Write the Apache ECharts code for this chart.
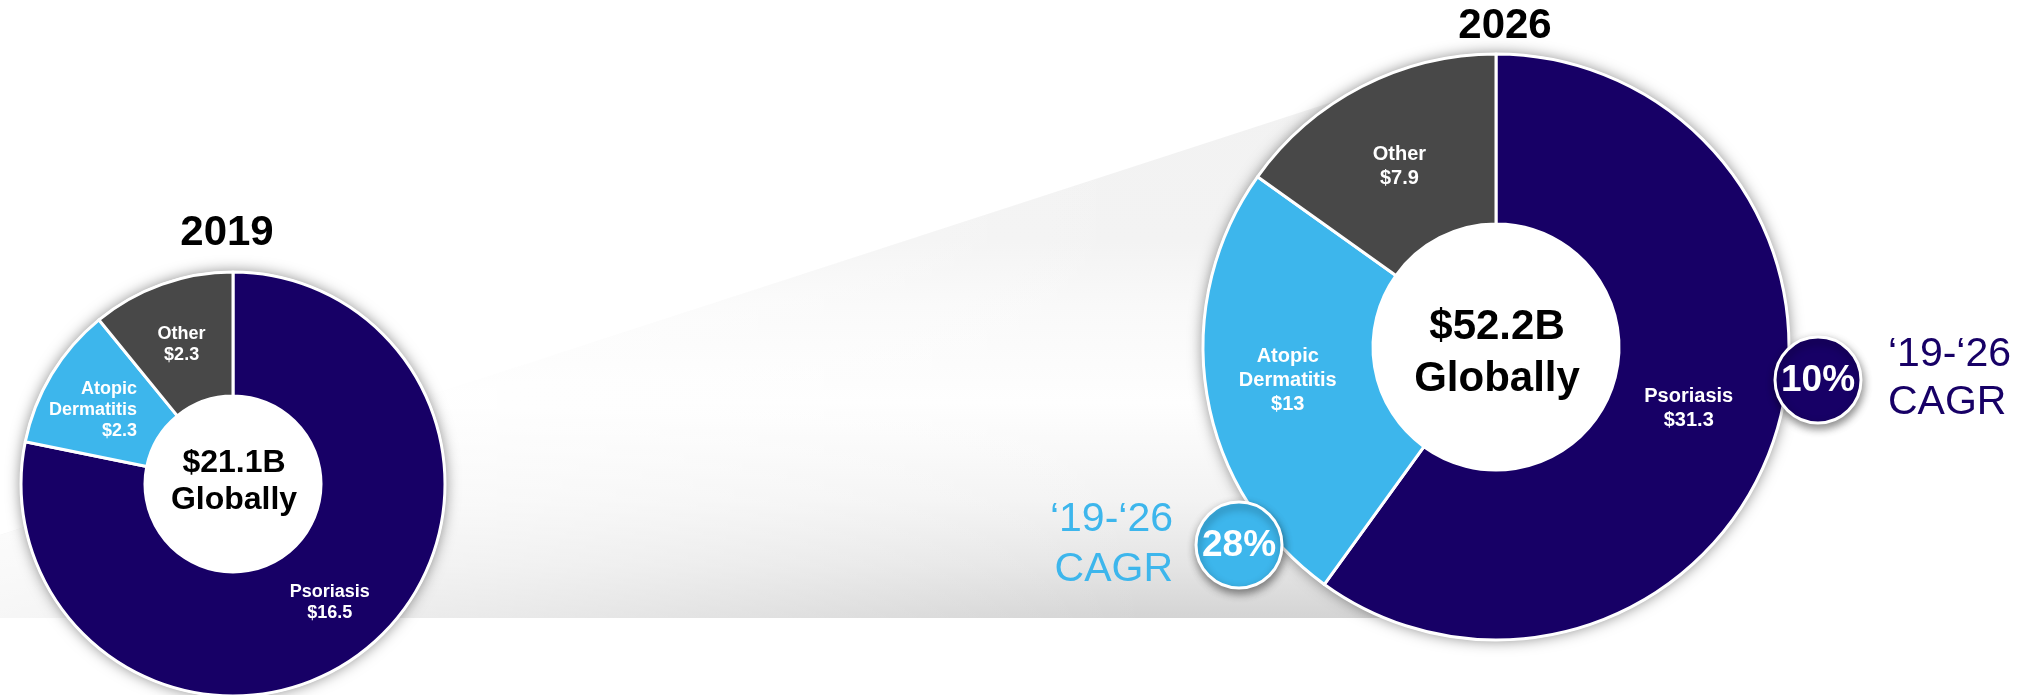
<!DOCTYPE html>
<html><head><meta charset="utf-8">
<script src="https://cdn.jsdelivr.net/npm/echarts@6/dist/echarts.min.js"></script>
<style>html,body{margin:0;padding:0;background:#fff}#c{width:2037px;height:695px}</style>
</head><body><div id="c"></div>
<script>
// ---- data ----
const categories = ['Psoriasis', 'Atopic Dermatitis', 'Other'];
const years = ['2019', '2026'];
const values2019 = [16.5, 2.3, 2.3];
const values2026 = [31.3, 13, 7.9];
const cagrPct = [10, 28];            // Psoriasis, Atopic Dermatitis ('19-'26)
const cagrText = ['‘19-‘26', 'CAGR'];
const centerSuffix = 'Globally';

// ---- styling / layout ----
const colors = ['#170066', '#3db6ec', '#484848'];
const FONT = "'Liberation Sans', Arial, sans-serif";
const layout = [
  {cx: 233, cy: 484, r0: 88, r1: 212, titleY: 233, fsCenter: 32, cTop: -21, cBot: 16, fsLabel: 18, lh: 21,
   labelOffset: [[0, 0], [-9, 5], [0, 5]], rightAlign: [false, true, false]},
  {cx: 1496, cy: 347, r0: 123, r1: 293, titleY: 26, fsCenter: 42, cTop: -20, cBot: 32, fsLabel: 20, lh: 24,
   labelOffset: [[-8, -3], [0, -1], [0, 7]], rightAlign: [false, false, false]}
];
const seriesValues = [values2019, values2026];

const round1 = v => Math.round(v * 10) / 10;

const series = [];
const graphic = [];

// background funnel shape
const funnelPts = [[0, 535], [1400, 80], [1400, 618], [0, 618]];
graphic.push({
  type: 'polygon', z: -20, silent: true,
  shape: {points: funnelPts},
  style: {fill: new echarts.graphic.LinearGradient(0, 80, 0, 618, [
    {offset: 0, color: '#f2f2f2'},
    {offset: 0.3, color: '#f3f3f3'},
    {offset: 0.42, color: '#f9f9f9'},
    {offset: 0.6, color: '#fefefe'},
    {offset: 0.78, color: '#f3f3f3'},
    {offset: 0.9, color: '#e5e5e5'},
    {offset: 1, color: '#d4d4d4'}
  ], true)}
});
graphic.push({
  type: 'polygon', z: -19, silent: true,
  shape: {points: funnelPts},
  style: {fill: new echarts.graphic.LinearGradient(0, 0, 1150, 0, [
    {offset: 0, color: 'rgba(255,255,255,0.8)'},
    {offset: 0.43, color: 'rgba(255,255,255,0.5)'},
    {offset: 1, color: 'rgba(255,255,255,0)'}
  ], true)}
});

seriesValues.forEach((vals, i) => {
  const L = layout[i];
  const labelText = (name, value) => name.replace(' ', '\n') + '\n$' + value;
  // shadow disc underneath
  series.push({
    type: 'pie', silent: true, animation: false, z: 1,
    center: [L.cx, L.cy], radius: [0, L.r1 + 1],
    label: {show: false}, labelLine: {show: false},
    itemStyle: {color: '#ffffff', shadowBlur: 14, shadowColor: 'rgba(0,0,0,0.45)', borderWidth: 0},
    data: [{value: 1}]
  });
  series.push({
    type: 'pie', animation: false, z: 2,
    center: [L.cx, L.cy], radius: [L.r0, L.r1],
    startAngle: 90, clockwise: true, avoidLabelOverlap: false,
    emphasis: {disabled: true},
    itemStyle: {borderColor: '#ffffff', borderWidth: 3},
    label: {
      show: true, position: 'inside', color: '#ffffff', fontFamily: FONT,
      fontWeight: 'bold', fontSize: L.fsLabel, lineHeight: L.lh,
      formatter: p => {
        const t = labelText(p.name, p.value);
        return L.rightAlign[p.dataIndex] ? t.split('\n').map(s => '{r|' + s + '}').join('\n') : t;
      },
      rich: {r: {align: 'right', color: '#ffffff', fontFamily: FONT, fontWeight: 'bold',
        fontSize: L.fsLabel, lineHeight: L.lh}}
    },
    labelLine: {show: false},
    data: categories.map((c, k) => ({name: c, value: vals[k], itemStyle: {color: colors[k]},
      label: {offset: L.labelOffset[k]}}))
  });
  const total = round1(vals.reduce((a, b) => a + b, 0));
  graphic.push({type: 'text', z: 100, x: L.cx + 1, y: L.cy + L.cTop,
    style: {text: '$' + total.toFixed(1) + 'B', fill: '#000', fontFamily: FONT, fontWeight: 'bold',
      fontSize: L.fsCenter, align: 'center', verticalAlign: 'middle'}});
  graphic.push({type: 'text', z: 100, x: L.cx + 1, y: L.cy + L.cBot,
    style: {text: centerSuffix, fill: '#000', fontFamily: FONT, fontWeight: 'bold',
      fontSize: L.fsCenter, align: 'center', verticalAlign: 'middle'}});
  graphic.push({type: 'text', z: 100, x: i === 0 ? 227 : 1505, y: L.titleY,
    style: {text: years[i], fill: '#000', fontFamily: FONT, fontWeight: 'bold',
      fontSize: 42, align: 'center', verticalAlign: 'middle'}});
});

// CAGR bubbles
const bubbles = [
  {cx: 1818, cy: 380, color: colors[0], tx: 1888, align: 'left', y1: 355, y2: 403},
  {cx: 1239, cy: 545, color: colors[1], tx: 1173, align: 'right', y1: 520, y2: 570}
];
bubbles.forEach((b, k) => {
  graphic.push({type: 'circle', z: 90, shape: {cx: b.cx, cy: b.cy, r: 43},
    style: {fill: b.color, stroke: '#ffffff', lineWidth: 3, shadowBlur: 8,
      shadowColor: 'rgba(0,0,0,0.45)', shadowOffsetX: 1, shadowOffsetY: 4}});
  graphic.push({type: 'text', z: 100, x: b.cx, y: b.cy + 1,
    style: {text: cagrPct[k] + '%', fill: '#ffffff', fontFamily: FONT, fontWeight: 'bold',
      fontSize: 37, align: 'center', verticalAlign: 'middle'}});
  graphic.push({type: 'text', z: 100, x: b.tx, y: b.y1,
    style: {text: cagrText[0], fill: b.color, fontFamily: FONT, fontSize: 41,
      align: b.align, verticalAlign: 'middle'}});
  graphic.push({type: 'text', z: 100, x: b.tx, y: b.y2,
    style: {text: cagrText[1], fill: b.color, fontFamily: FONT, fontSize: 41,
      align: b.align, verticalAlign: 'middle'}});
});

const chart = echarts.init(document.getElementById('c'), null, {renderer: 'canvas'});
chart.setOption({
  backgroundColor: '#ffffff',
  animation: false,
  series: series,
  graphic: graphic
});
</script></body></html>
